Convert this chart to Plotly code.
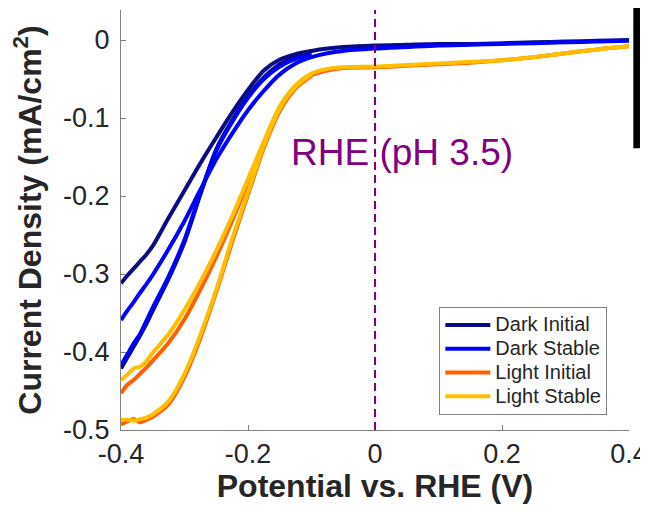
import plotly.graph_objects as go

# ---- data ----
V_upper = [0.4, 0.35, 0.3, 0.25, 0.2, 0.15, 0.1, 0.05, 0.0, -0.05, -0.075, -0.1, -0.125,
           -0.15, -0.175, -0.2, -0.225, -0.25, -0.275, -0.3, -0.325, -0.35, -0.36, -0.37,
           -0.38, -0.39, -0.4]
V_lower = [-0.4, -0.39, -0.38, -0.37, -0.36, -0.35, -0.325, -0.3, -0.275, -0.25, -0.225,
           -0.2, -0.175, -0.15, -0.125, -0.1]

dark_initial_up = [0.000, -0.001, -0.002, -0.003, -0.004, -0.005, -0.005, -0.006, -0.007, -0.009,
                   -0.011, -0.014, -0.018, -0.025, -0.039, -0.064, -0.093, -0.125, -0.158, -0.193,
                   -0.228, -0.264, -0.275, -0.284, -0.293, -0.302, -0.312]
dark_initial_low = [-0.421, -0.407, -0.393, -0.379, -0.364, -0.347, -0.306, -0.259, -0.198, -0.140,
                    -0.103, -0.072, -0.048, -0.031, -0.021, -0.016]
dark_stable_up = [-0.001, -0.002, -0.003, -0.004, -0.005, -0.006, -0.007, -0.009, -0.011, -0.014,
                  -0.017, -0.022, -0.030, -0.044, -0.065, -0.090, -0.120, -0.153, -0.192, -0.232,
                  -0.268, -0.301, -0.313, -0.324, -0.336, -0.347, -0.359]
dark_stable_low = [-0.417, -0.403, -0.389, -0.377, -0.360, -0.343, -0.303, -0.256, -0.196, -0.142,
                   -0.105, -0.074, -0.050, -0.034, -0.024, -0.020]
light_initial_up = [-0.008, -0.012, -0.017, -0.022, -0.026, -0.029, -0.031, -0.033, -0.035, -0.036,
                    -0.039, -0.045, -0.061, -0.089, -0.135, -0.183, -0.232, -0.278, -0.320, -0.358,
                    -0.388, -0.411, -0.420, -0.428, -0.436, -0.442, -0.453]
light_initial_low = [-0.493, -0.489, -0.486, -0.490, -0.487, -0.483, -0.467, -0.432, -0.382, -0.323,
                     -0.259, -0.198, -0.138, -0.091, -0.062, -0.046]
light_stable_up = [-0.008, -0.012, -0.017, -0.022, -0.026, -0.028, -0.030, -0.032, -0.034, -0.035,
                   -0.037, -0.043, -0.058, -0.085, -0.130, -0.178, -0.226, -0.270, -0.310, -0.346,
                   -0.377, -0.401, -0.412, -0.419, -0.421, -0.429, -0.436]
light_stable_low = [-0.487, -0.487, -0.488, -0.486, -0.484, -0.480, -0.463, -0.428, -0.378, -0.320,
                    -0.255, -0.195, -0.135, -0.088, -0.060, -0.044]

series_names = ["Dark Initial", "Dark Stable", "Light Initial", "Light Stable"]
series_colors = ["#0a0a82", "#0000ff", "#ff6000", "#ffbf00"]
series_up = [dark_initial_up, dark_stable_up, light_initial_up, light_stable_up]
series_low = [dark_initial_low, dark_stable_low, light_initial_low, light_stable_low]

x_tickvals = [-0.4, -0.2, 0, 0.2, 0.4]
x_ticktext = ["-0.4", "-0.2", "0", "0.2", "0.4"]
y_tickvals = [0, -0.1, -0.2, -0.3, -0.4, -0.5]
y_ticktext = ["0", "-0.1", "-0.2", "-0.3", "-0.4", "-0.5"]

FONT = "Liberation Sans, Arial, sans-serif"
TXT = "#262626"
AX = "#808080"

fig = go.Figure()
for name, col, up, low in zip(series_names, series_colors, series_up, series_low):
    xs = V_upper + [None] + V_lower
    ys = up + [None] + low
    label = '<span style="font-size:20px">' + name + '</span>'
    fig.add_trace(go.Scatter(x=xs, y=ys, mode="lines", name=label, connectgaps=False,
                             line=dict(color=col, width=4, shape="spline", smoothing=0.8)))

fig.add_shape(type="line", xref="x", yref="paper", x0=0, x1=0, y0=0, y1=1,
              line=dict(color="#800080", width=2, dash="8px,5px"))
fig.add_annotation(x=0.043, y=-0.144, xref="x", yref="y", text="RHE (pH 3.5)",
                   showarrow=False, font=dict(family=FONT, size=37, color="#800080"))
# cropped black element at the right edge
fig.add_shape(type="rect", xref="paper", yref="paper", x0=1.0085, x1=1.06, y0=0.671, y1=1.05,
              fillcolor="black", line=dict(width=0))

fig.update_layout(
    width=640, height=496,
    margin=dict(l=113, r=19, t=2, b=74),
    paper_bgcolor="white", plot_bgcolor="white",
    font=dict(family=FONT, color=TXT),
    showlegend=True,
    legend=dict(x=0.6266, y=0.2929, xanchor="left", yanchor="top",
                bgcolor="white", bordercolor=AX, borderwidth=1, itemwidth=45,
                font=dict(family=FONT, size=16, color=TXT)),
)
fig.update_xaxes(range=[-0.4, 0.4], tickvals=x_tickvals, ticktext=x_ticktext,
                 showgrid=False, zeroline=False, showline=True, linecolor=AX, linewidth=1,
                 ticks="inside", ticklen=5, tickcolor=AX, automargin=False,
                 tickfont=dict(family=FONT, size=27, color=TXT),
                 title=dict(text="<b>Potential vs. RHE (V)</b>", standoff=7,
                            font=dict(family=FONT, size=32, color=TXT)))
fig.update_yaxes(range=[-0.5, 0.0385], tickvals=y_tickvals, ticktext=y_ticktext,
                 showgrid=False, zeroline=False, showline=True, linecolor=AX, linewidth=1,
                 ticks="inside", ticklen=5, tickcolor=AX, ticklabelstandoff=5, automargin=False,
                 tickfont=dict(family=FONT, size=27, color=TXT),
                 title=dict(text="<b>Current Density (mA/cm<sup>2</sup>)</b>", standoff=16,
                            font=dict(family=FONT, size=32, color=TXT)))

fig.write_html("out.html")
